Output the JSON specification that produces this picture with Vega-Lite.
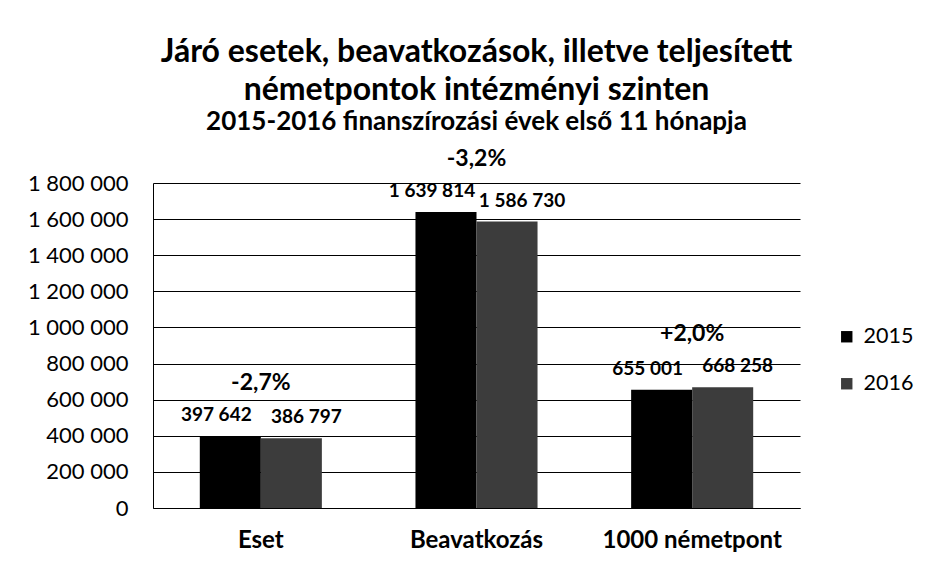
{
  "$schema": "https://vega.github.io/schema/vega-lite/v6.json",
  "width": 647,
  "height": 325,
  "autosize": {"type": "none"},
  "padding": {"left": 153, "top": 183, "right": 131, "bottom": 58},
  "background": "white",
  "title": {
    "text": ["Járó esetek, beavatkozások, illetve teljesített", "németpontok intézményi szinten"],
    "subtitle": "2015-2016 finanszírozási évek első 11 hónapja",
    "anchor": "middle",
    "frame": "group",
    "font": "Lato",
    "fontSize": 32,
    "fontWeight": "bold",
    "color": "black",
    "lineHeight": 38,
    "subtitleFont": "Lato",
    "subtitleFontSize": 26,
    "subtitleFontWeight": "bold",
    "subtitleColor": "black",
    "subtitlePadding": 2,
    "offset": 12
  },
  "data": {
    "values": [
      {"category": "Eset", "year": "2015", "value": 397642, "pct": "-2,7%"},
      {"category": "Eset", "year": "2016", "value": 386797, "pct": null},
      {"category": "Beavatkozás", "year": "2015", "value": 1639814, "pct": "-3,2%"},
      {"category": "Beavatkozás", "year": "2016", "value": 1586730, "pct": null},
      {"category": "1000 németpont", "year": "2015", "value": 655001, "pct": "+2,0%"},
      {"category": "1000 németpont", "year": "2016", "value": 668258, "pct": null}
    ]
  },
  "encoding": {
    "x": {
      "field": "category",
      "type": "nominal",
      "sort": ["Eset", "Beavatkozás", "1000 németpont"],
      "scale": {"paddingInner": 0.434, "paddingOuter": 0.217},
      "axis": {
        "title": null,
        "labelAngle": 0,
        "labelFont": "Lato",
        "labelFontSize": 24,
        "labelFontWeight": "bold",
        "labelColor": "black",
        "labelPadding": 20,
        "ticks": false,
        "domainColor": "black",
        "domainWidth": 1,
        "grid": false
      }
    }
  },
  "layer": [
    {
      "mark": {"type": "bar"},
      "encoding": {
        "xOffset": {"field": "year", "type": "nominal", "scale": {"domain": ["2015", "2016"], "paddingInner": 0, "paddingOuter": 0}},
        "y": {
          "field": "value",
          "type": "quantitative",
          "scale": {"domain": [0, 1800000], "nice": false},
          "axis": {
            "title": null,
            "orient": "left",
            "values": [0, 200000, 400000, 600000, 800000, 1000000, 1200000, 1400000, 1600000, 1800000],
            "format": ",d",
            "labelOverlap": false,
            "labelFont": "Lato",
            "labelFontSize": 22,
            "labelColor": "black",
            "labelPadding": 25,
            "ticks": false,
            "grid": true,
            "gridColor": "black",
            "gridOpacity": 1,
            "gridWidth": 1,
            "domainColor": "black",
            "domainWidth": 1
          }
        },
        "color": {
          "field": "year",
          "type": "nominal",
          "scale": {"domain": ["2015", "2016"], "range": ["#000000", "#3c3c3c"]},
          "legend": {
            "title": null,
            "orient": "none",
            "legendX": 683,
            "legendY": 143,
            "symbolType": "square",
            "symbolSize": 130,
            "symbolStrokeWidth": 0,
            "labelFont": "Lato",
            "labelFontSize": 21.5,
            "labelColor": "black",
            "rowPadding": 24,
            "labelOffset": 6
          }
        }
      }
    },
    {
      "transform": [{"filter": "datum.year == '2015'"}],
      "mark": {"type": "text", "dy": -21, "dx": -14, "font": "Lato", "fontSize": 19, "fontWeight": "bold", "color": "black"},
      "encoding": {
        "xOffset": {"field": "year", "type": "nominal"},
        "y": {"field": "value", "type": "quantitative", "axis": null},
        "text": {"field": "value", "type": "quantitative", "format": ",d"}
      }
    },
    {
      "transform": [{"filter": "datum.year == '2016'"}],
      "mark": {"type": "text", "dy": -21, "dx": 15, "font": "Lato", "fontSize": 19, "fontWeight": "bold", "color": "black"},
      "encoding": {
        "xOffset": {"field": "year", "type": "nominal"},
        "y": {"field": "value", "type": "quantitative", "axis": null},
        "text": {"field": "value", "type": "quantitative", "format": ",d"}
      }
    },
    {
      "transform": [
        {"joinaggregate": [{"op": "max", "field": "value", "as": "maxValue"}], "groupby": ["category"]},
        {"filter": "datum.pct != null"}
      ],
      "mark": {"type": "text", "dy": -53, "font": "Lato", "fontSize": 23, "fontWeight": "bold", "color": "black"},
      "encoding": {
        "y": {"field": "maxValue", "type": "quantitative", "axis": null},
        "text": {"field": "pct", "type": "nominal"}
      }
    }
  ],
  "resolve": {"axis": {"y": "independent"}},
  "config": {
    "view": {"stroke": null},
    "locale": {
      "number": {"decimal": ",", "thousands": " ", "grouping": [3], "currency": ["", " Ft"]}
    }
  }
}
